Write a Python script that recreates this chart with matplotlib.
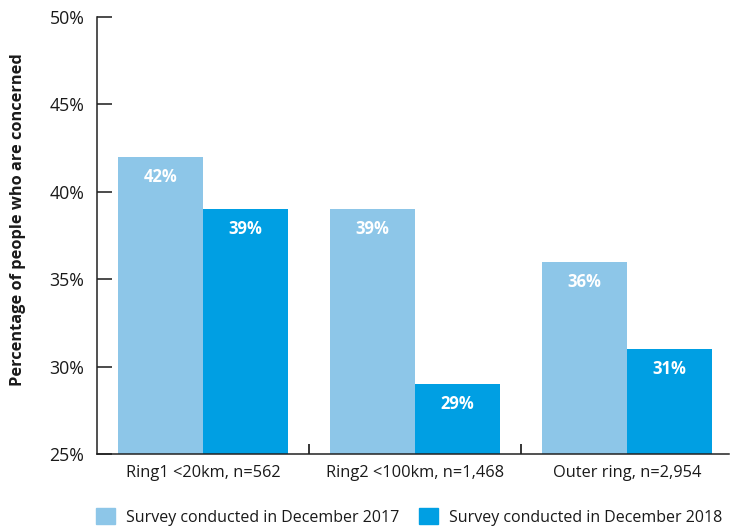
import matplotlib.pyplot as plt
import numpy as np
from matplotlib.patches import Patch

plt.rcParams['font.family'] = ['Open Sans', 'DejaVu Sans']

# survey results per ring around the site
categories = ["Ring1 <20km, n=562", "Ring2 <100km, n=1,468", "Outer ring, n=2,954"]
survey_2017 = [42, 39, 36]
survey_2018 = [39, 29, 31]
series_names = ["Survey conducted in December 2017", "Survey conducted in December 2018"]
yticks = [25, 30, 35, 40, 45, 50]

light_blue = "#8DC6E8"
dark_blue = "#009FE3"
text_col = "#1a1a1a"

fig = plt.figure(figsize=(7.3, 5.28), dpi=100)
ax = fig.add_axes([97/730, 1 - 454/528, 632/730, 437/528])

x = np.arange(len(categories))
w = 0.4
bars1 = ax.bar(x - w/2, survey_2017, w, bottom=0, color=light_blue, label=series_names[0])
bars2 = ax.bar(x + w/2, survey_2018, w, bottom=0, color=dark_blue, label=series_names[1])

for bars, vals in [(bars1, survey_2017), (bars2, survey_2018)]:
    for b, v in zip(bars, vals):
        ax.text(b.get_x() + b.get_width()/2, v - 1.15, f"{v}%", ha="center", va="center",
                color="white", fontsize=12, fontweight="bold")

ax.set_ylim(25, 50)
ax.set_xlim(-0.5, 2.48)
ax.set_yticks(yticks)
ax.set_yticklabels([f"{t}%" for t in yticks])
ax.set_xticks(x)
ax.set_xticklabels(categories)
ax.set_xticks([0.5, 1.5], minor=True)

ax.tick_params(axis="y", direction="in", length=11, width=1.1, pad=9, labelsize=12.8, colors=text_col)
ax.tick_params(axis="x", which="major", length=0, pad=8, labelsize=11.8, labelcolor=text_col)
ax.tick_params(axis="x", which="minor", direction="in", length=7, width=1.1)

for s in ["top", "right"]:
    ax.spines[s].set_visible(False)
for s in ["left", "bottom"]:
    ax.spines[s].set_linewidth(1.1)
    ax.spines[s].set_color("#222222")

fig.text(18/730, 1 - 220/528, "Percentage of people who are concerned", rotation=90,
         ha="center", va="center", fontsize=11.8, fontweight="bold", color=text_col)

handles = [Patch(color=light_blue), Patch(color=dark_blue)]
fig.legend(handles, series_names, ncol=2, loc="center left", bbox_to_anchor=(96/730, 1 - 517/528),
           frameon=False, handlelength=1.2, handleheight=1.1, handletextpad=0.7,
           columnspacing=1.2, fontsize=11.5, labelcolor=text_col, borderaxespad=0, borderpad=0)

fig.savefig("out.png", dpi=100)
